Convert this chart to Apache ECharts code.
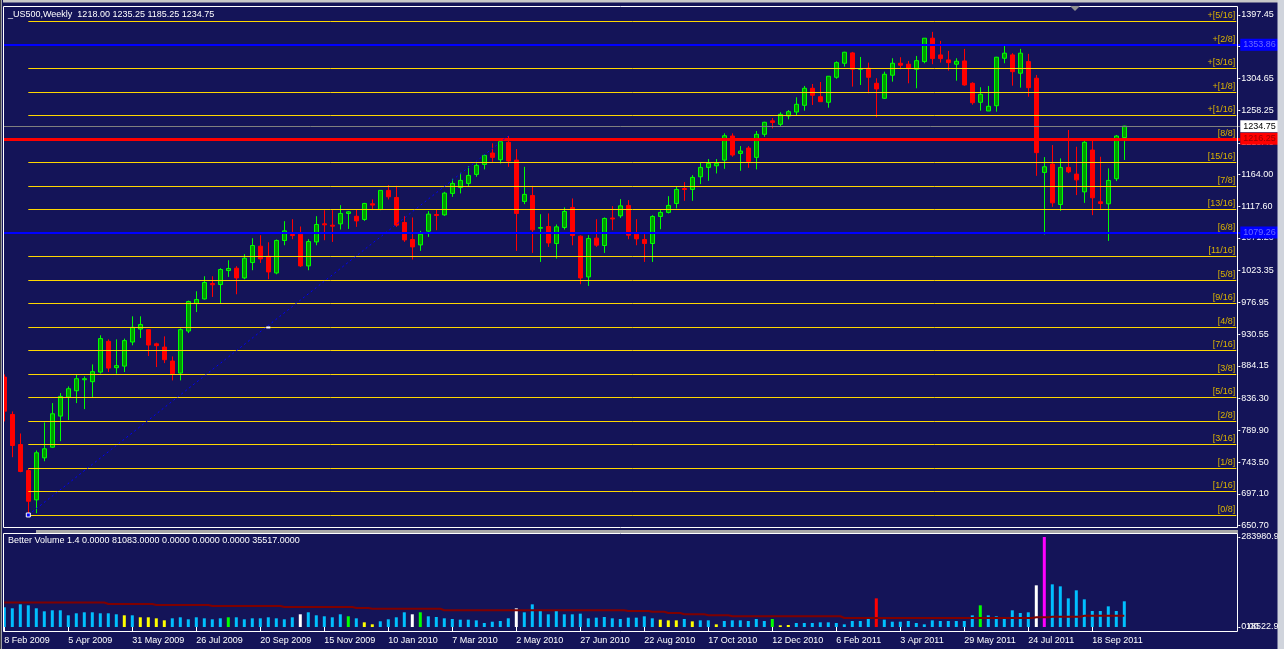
<!DOCTYPE html>
<html><head><meta charset="utf-8">
<script src="https://cdn.jsdelivr.net/npm/echarts@6/dist/echarts.min.js"></script>
<style>html,body{margin:0;padding:0;background:#141458;overflow:hidden}#c{width:1284px;height:649px}</style>
</head><body><div id="c"></div>
<script>
// ---------- DATA (weekly bars, week index 0 = 8 Feb 2009) ----------
const opens = [867.8,813.2,769.3,731.2,688.3,749.8,765.3,810.8,838.6,847.9,
864.0,861.1,875.2,920.1,881.6,883.9,919.1,938.1,937.2,916.5,
911.7,891.3,873.7,935.2,975.3,982.1,1004.7,1003.1,1023.6,1027.0,
1012.8,1035.3,1059.2,1044.6,1020.1,1067.6,1076.3,1076.8,1030.4,1065.5,
1091.9,1089.9,1091.9,1107.1,1103.0,1098.3,1121.2,1112.9,1140.8,1130.5,
1093.9,1069.0,1061.1,1081.2,1105.6,1105.0,1136.4,1145.2,1151.0,1164.2,
1178.8,1195.4,1185.6,1211.1,1185.1,1124.7,1133.4,1085.5,1088.0,1063.2,
1086.6,1115.9,1073.9,1014.3,1071.0,1060.2,1100.4,1103.6,1118.8,1076.8,
1069.0,1063.2,1102.7,1108.6,1121.7,1143.5,1142.2,1160.7,1174.4,1176.8,
1185.1,1220.3,1194.9,1202.7,1189.1,1222.8,1242.5,1237.4,1249.6,1255.4,
1265.2,1290.1,1277.8,1269.6,1306.2,1326.7,1341.8,1317.9,1319.4,1297.4,
1275.5,1309.2,1326.7,1325.3,1317.9,1329.1,1363.3,1338.9,1331.6,1325.3,
1330.1,1297.4,1269.6,1256.9,1264.6,1334.0,1338.9,1312.1,1329.1,1304.8,
1167.1,1179.3,1120.2,1174.4,1164.6,1138.7,1199.8,1124.1,1121.2,1157.8,
1218.00];
const highs = [871.8,817.6,785.4,733.7,760.5,801.5,829.8,844.4,854.2,871.8,
868.9,886.4,928.9,923.0,923.0,924.1,956.7,956.7,937.5,918.2,
927.4,898.1,939.0,979.7,993.3,1015.3,1015.3,1027.0,1038.7,1030.0,
1047.5,1070.9,1075.3,1065.0,1069.0,1095.8,1098.7,1088.0,1069.5,1103.1,
1111.9,1111.9,1119.2,1110.5,1113.4,1122.6,1127.6,1141.1,1148.5,1147.5,
1103.1,1101.2,1081.6,1110.5,1113.4,1138.7,1157.8,1166.5,1176.3,1180.3,
1193.9,1209.6,1213.4,1220.3,1201.2,1175.3,1147.5,1106.0,1107.1,1091.0,
1115.9,1129.0,1075.0,1075.3,1098.7,1101.2,1117.8,1128.0,1126.6,1098.7,
1076.8,1104.6,1111.9,1132.4,1146.1,1152.9,1163.1,1181.2,1186.6,1186.6,
1224.2,1224.2,1205.6,1205.6,1227.6,1241.2,1246.6,1255.0,1258.3,1276.9,
1293.5,1296.4,1299.3,1307.7,1329.5,1343.5,1343.3,1335.9,1327.6,1304.8,
1314.4,1334.0,1335.5,1330.1,1337.4,1363.5,1372.6,1359.4,1344.7,1334.0,
1347.7,1298.9,1291.6,1293.5,1336.0,1352.0,1341.4,1347.7,1340.4,1309.6,
1189.5,1207.1,1187.6,1229.1,1204.6,1213.0,1215.4,1190.0,1173.0,1221.8,
1235.25];
const lows = [803.0,750.7,728.7,667.8,668.7,744.8,764.5,774.1,805.0,829.8,
821.0,837.7,873.0,875.2,872.8,875.2,914.3,925.0,898.6,882.5,
888.3,863.0,863.0,932.2,962.9,981.2,985.0,975.3,1014.3,988.9,
1010.9,1024.1,1034.8,1010.9,1018.2,1060.6,1069.4,1028.9,1024.1,1060.6,
1068.0,1065.5,1083.6,1084.5,1087.5,1096.2,1112.9,1111.9,1127.6,1087.5,
1065.5,1039.7,1052.4,1072.8,1082.6,1103.6,1131.4,1136.4,1146.1,1160.7,
1171.5,1182.6,1180.3,1175.3,1052.4,1120.7,1049.4,1036.2,1058.2,1041.2,
1083.6,1060.6,1003.6,1001.1,1058.2,1049.4,1082.6,1100.6,1069.4,1060.6,
1036.2,1036.2,1084.0,1107.1,1114.4,1125.6,1125.6,1150.0,1154.8,1165.6,
1172.4,1190.0,1169.5,1173.9,1171.5,1219.2,1231.5,1233.9,1244.7,1251.0,
1257.3,1265.7,1270.5,1261.7,1304.0,1321.7,1292.5,1294.9,1282.8,1247.6,
1274.4,1299.8,1317.9,1297.4,1290.1,1326.7,1325.3,1327.6,1315.9,1301.2,
1293.9,1266.1,1257.3,1256.9,1255.9,1326.7,1293.9,1291.0,1277.8,1162.1,
1076.4,1116.8,1110.9,1166.0,1133.9,1122.6,1104.6,1113.4,1067.0,1154.4,
1185.25];
const closes = [818.0,767.8,729.8,686.3,757.2,763.0,814.2,839.6,850.8,865.5,
865.5,875.8,924.1,881.0,884.6,921.2,940.6,944.6,914.7,913.8,
893.3,872.8,937.2,978.2,981.2,1006.1,1002.8,1025.1,1026.6,1012.8,
1041.6,1060.2,1040.6,1021.6,1067.6,1081.6,1074.8,1030.4,1066.1,1091.0,
1090.5,1088.5,1107.1,1109.4,1096.2,1121.7,1119.3,1140.8,1131.4,1090.0,
1068.4,1058.2,1076.8,1106.1,1104.2,1136.8,1151.0,1155.4,1162.7,1177.4,
1192.0,1189.1,1212.0,1183.7,1107.1,1135.0,1083.1,1086.5,1064.0,1087.5,
1110.0,1074.8,1012.8,1070.4,1060.7,1099.8,1099.0,1118.2,1075.3,1069.9,
1063.2,1102.7,1108.6,1118.8,1142.2,1142.1,1159.8,1174.4,1180.3,1180.3,
1220.7,1192.5,1198.3,1183.2,1222.8,1240.4,1240.2,1252.0,1255.9,1266.7,
1290.1,1279.9,1270.5,1307.7,1327.6,1342.8,1317.9,1318.8,1306.2,1289.1,
1310.6,1326.7,1323.8,1318.8,1330.5,1363.3,1333.5,1333.5,1327.6,1329.6,
1294.9,1269.0,1281.3,1263.8,1335.5,1341.4,1314.4,1341.4,1291.0,1196.0,
1175.3,1122.6,1174.4,1167.9,1156.2,1211.1,1130.0,1121.7,1155.4,1220.3,
1234.75];

const volumes = [62200,59000,71600,68500,59000,49500,52700,52700,36900,43200,
46400,46400,43200,43200,40100,36900,36900,30600,30600,27400,
21100,27400,30600,24300,30600,27400,24300,27400,30600,30600,
24300,27400,27400,30600,27400,24300,30600,40100,46400,36900,
33800,30600,40100,33800,27400,14800,8500,18000,24300,30600,
46400,40100,46400,33700,31600,27400,25200,23100,23100,21000,
12600,16800,18900,27400,58900,46300,71500,50500,40000,50500,
40000,40000,42100,27400,29500,31600,27400,25200,29500,29500,
33700,27400,23100,21000,21000,25200,17900,21000,21000,8400,
18900,21000,21000,18900,25200,18900,25200,5300,6300,12600,
12600,12600,14700,14700,12600,8400,18900,18900,25200,90400,
23100,16800,16800,18900,12600,8400,21000,18900,18900,18900,
18900,36800,68400,36800,33700,25200,52600,44200,46300,131500,
283980.9,134600,128300,90400,115700,87300,50500,50500,65200,50500,
81083];
// bar colour class: b blue, y yellow, g green, w white, r red, m magenta
const volumeColorCodes = ('bbbbbbbbbb'+'bbbbbybyyy'+'ybbbbbbbgb'+'bbbbbbbwbb'+'bbbgbyybbb'+
  'bwgbbbbbbb'+'bbbbwbbbbb'+'bbbbbbbbbb'+'bbyyybybby'+'bbbbbbgyyb'+
  'bbbbbbbbbr'+'bbbbbbbbbb'+'bbgbbbbbbw'+'mbbbbbbbbb'+'b').split('');
const volumeAverage = [77300,77300,77300,77300,77300,77300,77300,77300,77300,77300,
77300,77300,77300,72600,72600,72600,72600,72600,72600,69400,
69400,69400,69400,69400,69400,69400,66300,66300,66300,66300,
66300,66300,66300,66300,66300,63100,63100,63100,63100,63100,
63100,63100,63100,63100,59900,59900,57700,57700,57700,57700,
57700,57700,57700,57700,57700,52700,52700,52700,52700,52700,
52700,52700,52700,52700,52700,52700,52700,52700,52700,52700,
52700,52700,52700,52700,52700,52700,52700,52700,50500,50500,
50500,48300,48300,44200,44200,40100,40100,40100,36900,36900,
36900,33800,33800,33800,33800,33800,33800,33800,33800,33800,
33800,33800,33800,33800,33800,28400,28400,28400,28400,28400,
28400,28400,28400,28400,28400,28400,28400,28400,28400,28400,
28400,28400,28400,28400,28400,28400,28400,28400,28400,30600,
30600,32500,32500,32500,32500,35517,35517,35517,35517,35517,
35517];

const dateLabels = ['8 Feb 2009','5 Apr 2009','31 May 2009','26 Jul 2009','20 Sep 2009','15 Nov 2009',
 '10 Jan 2010','7 Mar 2010','2 May 2010','27 Jun 2010','22 Aug 2010','17 Oct 2010','12 Dec 2010',
 '6 Feb 2011','3 Apr 2011','29 May 2011','24 Jul 2011','18 Sep 2011'];
const priceTicks = [1397.45,1351.05,1304.65,1258.25,1210.40,1164.00,1117.60,1071.20,1023.35,976.95,
 930.55,884.15,836.30,789.90,743.50,697.10,650.70];
const volumeTicks = [0, 283980.9];
const murreyNames = ['[0/8]','[1/16]','[1/8]','[3/16]','[2/8]','[5/16]','[3/8]','[7/16]','[4/8]','[9/16]',
 '[5/8]','[11/16]','[6/8]','[13/16]','[7/8]','[15/16]','[8/8]','+[1/16]','+[1/8]','+[3/16]','+[2/8]','+[5/16]'];
const murreyLevels = [666.25,700.625,735.00,769.375,803.75,838.125,872.50,906.875,941.25,975.625,
 1010.00,1044.375,1078.75,1113.125,1147.50,1181.875,1216.25,1250.625,1285.00,1319.375,1353.75,1388.125];
const blueLevels = [1353.86, 1079.26];
const redLevel = 1216.25;
const bidLevel = 1234.75;
const trendLine = [[3, 666.25], [63, 1220.4]];
const markerPoint = [33, 940.4];

// ---------- CHART ----------
const FONT = '"Liberation Sans", Arial, sans-serif';
const BG = '#141458';
const SLOTS = 155;
const cats = Array.from({length: SLOTS}, (_, k) => 'w' + k);
const colorMap = {b:'#00bfff', y:'#ffff00', g:'#00ff00', w:'#ffffff', r:'#ff0000', m:'#ff00ff'};

const markData = [];
murreyLevels.forEach((p, k) => {
  markData.push([
    {coord: [3, p], lineStyle: {color: '#ffd700', width: 1, type: 'solid'},
     label: {show: true, position: 'insideEndTop', formatter: murreyNames[k], color: '#dcb400',
             fontSize: 9, fontFamily: FONT, distance: [1, 1]}},
    {coord: [SLOTS - 1, p]}
  ]);
});
blueLevels.forEach(p => {
  markData.push({yAxis: p, lineStyle: {color: '#0000ff', width: 2, type: 'solid'},
    label: {show: true, position: 'end', formatter: p.toFixed(2), color: '#6a6aff', backgroundColor: '#0000ff',
            padding: [2, 3, 1, 3], fontSize: 9, fontFamily: FONT, distance: 0}});
});
markData.push({yAxis: bidLevel, lineStyle: {color: '#808080', width: 1, type: 'solid'},
  label: {show: true, position: 'end', formatter: bidLevel.toFixed(2), color: '#000000', backgroundColor: '#ffffff',
          padding: [2, 3, 1, 3], fontSize: 9, fontFamily: FONT, distance: 0}});
markData.push({yAxis: redLevel, lineStyle: {color: '#ff0000', width: 3, type: 'solid'},
  label: {show: true, position: 'end', formatter: redLevel.toFixed(2), color: '#990000', backgroundColor: '#ff0000',
          padding: [2, 3, 1, 3], fontSize: 9, fontFamily: FONT, distance: 0}});
markData.push([
  {coord: trendLine[0], lineStyle: {color: '#0000ff', width: 1, type: [2, 3]}, label: {show: false}},
  {coord: trendLine[1]}
]);

const option = {
  backgroundColor: BG,
  animation: false,
  textStyle: {fontFamily: FONT},
  grid: [
    {left: 0.3, top: 6, width: 8 * SLOTS, height: 522},
    {left: 0.3, top: 537, width: 8 * SLOTS, height: 90}
  ],
  xAxis: [
    {type: 'category', gridIndex: 0, data: cats, boundaryGap: true, show: false},
    {type: 'category', gridIndex: 1, data: cats, boundaryGap: true, offset: 5,
     axisLine: {show: false},
     axisTick: {show: true, alignWithLabel: true, length: 4, lineStyle: {color: '#ffffff'},
                interval: (i) => i % 8 === 0 && i / 8 < dateLabels.length},
     axisLabel: {show: true, color: '#ffffff', fontSize: 9, fontFamily: FONT, align: 'left', margin: 4,
                 interval: (i) => i % 8 === 0 && i / 8 < dateLabels.length,
                 formatter: (v, i) => (i % 8 === 0 && dateLabels[i / 8]) ? dateLabels[i / 8] : ''}}
  ],
  yAxis: [
    {type: 'value', gridIndex: 0, position: 'right', min: 647.2, max: 1410.4, offset: -2,
     splitLine: {show: false}, axisLine: {show: false},
     axisTick: {show: true, length: 2, customValues: priceTicks, lineStyle: {color: '#ffffff'}},
     axisLabel: {show: true, customValues: priceTicks, color: '#ffffff', fontSize: 9, fontFamily: FONT, margin: 3,
                 formatter: v => v.toFixed(2)}},
    {type: 'value', gridIndex: 1, position: 'right', min: 0, max: 283980.9, offset: -2,
     splitLine: {show: false}, axisLine: {show: false},
     axisTick: {show: true, length: 2, customValues: volumeTicks, lineStyle: {color: '#ffffff'}},
     axisLabel: {show: true, customValues: volumeTicks, color: '#ffffff', fontSize: 9, fontFamily: FONT, margin: 3,
                 formatter: v => v === 0 ? '0.00' : '283980.9'}}
  ],
  series: [
    {type: 'candlestick', xAxisIndex: 0, yAxisIndex: 0, barWidth: 5,
     data: opens.map((o, i) => [o, closes[i], lows[i], highs[i]]),
     itemStyle: {color: '#009a00', color0: '#ff0000', borderColor: '#00ff00', borderColor0: '#ff0000', borderWidth: 1},
     markLine: {silent: true, symbol: ['none', 'none'], animation: false, data: markData},
     markPoint: {silent: true, animation: false, label: {show: false}, data: [
       {coord: trendLine[0], symbol: 'rect', symbolSize: 4, itemStyle: {color: '#0000ff', borderColor: '#ffffff', borderWidth: 1}},
       {coord: markerPoint, symbol: 'rect', symbolSize: [4, 2], itemStyle: {color: '#ffffff'}}
     ]}},
    {type: 'bar', xAxisIndex: 1, yAxisIndex: 1, barWidth: 3,
     data: volumes.map((v, i) => ({value: v, itemStyle: {color: colorMap[volumeColorCodes[i]]}}))},
    {type: 'line', xAxisIndex: 1, yAxisIndex: 1, data: volumeAverage, step: 'middle', symbol: 'none',
     lineStyle: {color: '#800000', width: 2}, z: 3}
  ],
  graphic: [
    {type: 'rect', z: 100, shape: {x: 0, y: 0, width: 1284, height: 2.5}, style: {fill: '#c8c8c8'}},
    {type: 'rect', z: 100, shape: {x: 0, y: 0, width: 3, height: 649}, style: {fill: BG}},
    {type: 'rect', z: 100, shape: {x: 0, y: 0, width: 1, height: 649}, style: {fill: '#404048'}},
    {type: 'rect', z: 100, shape: {x: 1, y: 0, width: 1, height: 649}, style: {fill: '#a0a0a8'}},
    {type: 'rect', z: 100, shape: {x: 1277.5, y: 0, width: 6.5, height: 649}, style: {fill: '#d0d4dc'}},
    {type: 'rect', z: 101, shape: {x: 3.5, y: 6.5, width: 1234, height: 521}, style: {fill: 'none', stroke: '#ffffff', lineWidth: 1}},
    {type: 'rect', z: 101, shape: {x: 3.5, y: 533.5, width: 1234, height: 98}, style: {fill: 'none', stroke: '#ffffff', lineWidth: 1}},
    {type: 'rect', z: 101, shape: {x: 36, y: 530, width: 1202, height: 3}, style: {fill: '#a8a8a8'}},
    {type: 'polygon', z: 101, shape: {points: [[1070, 6], [1080, 6], [1075, 11]]}, style: {fill: '#909090'}},
    {type: 'text', z: 102, x: 8, y: 15, style: {text: '_US500,Weekly  1218.00 1235.25 1185.25 1234.75', fill: '#ffffff',
      font: '9px ' + FONT, verticalAlign: 'middle', textVerticalAlign: 'middle'}},
    {type: 'text', z: 102, x: 8, y: 541, style: {text: 'Better Volume 1.4 0.0000 81083.0000 0.0000 0.0000 0.0000 35517.0000',
      fill: '#ffffff', font: '9px ' + FONT, verticalAlign: 'middle', textVerticalAlign: 'middle'}},
    {type: 'text', z: 102, x: 1246, y: 627, style: {text: '18522.9', fill: '#ffffff', font: '9px ' + FONT,
      verticalAlign: 'middle', textVerticalAlign: 'middle'}}
  ]
};
const chart = echarts.init(document.getElementById('c'));
chart.setOption(option);
</script></body></html>
